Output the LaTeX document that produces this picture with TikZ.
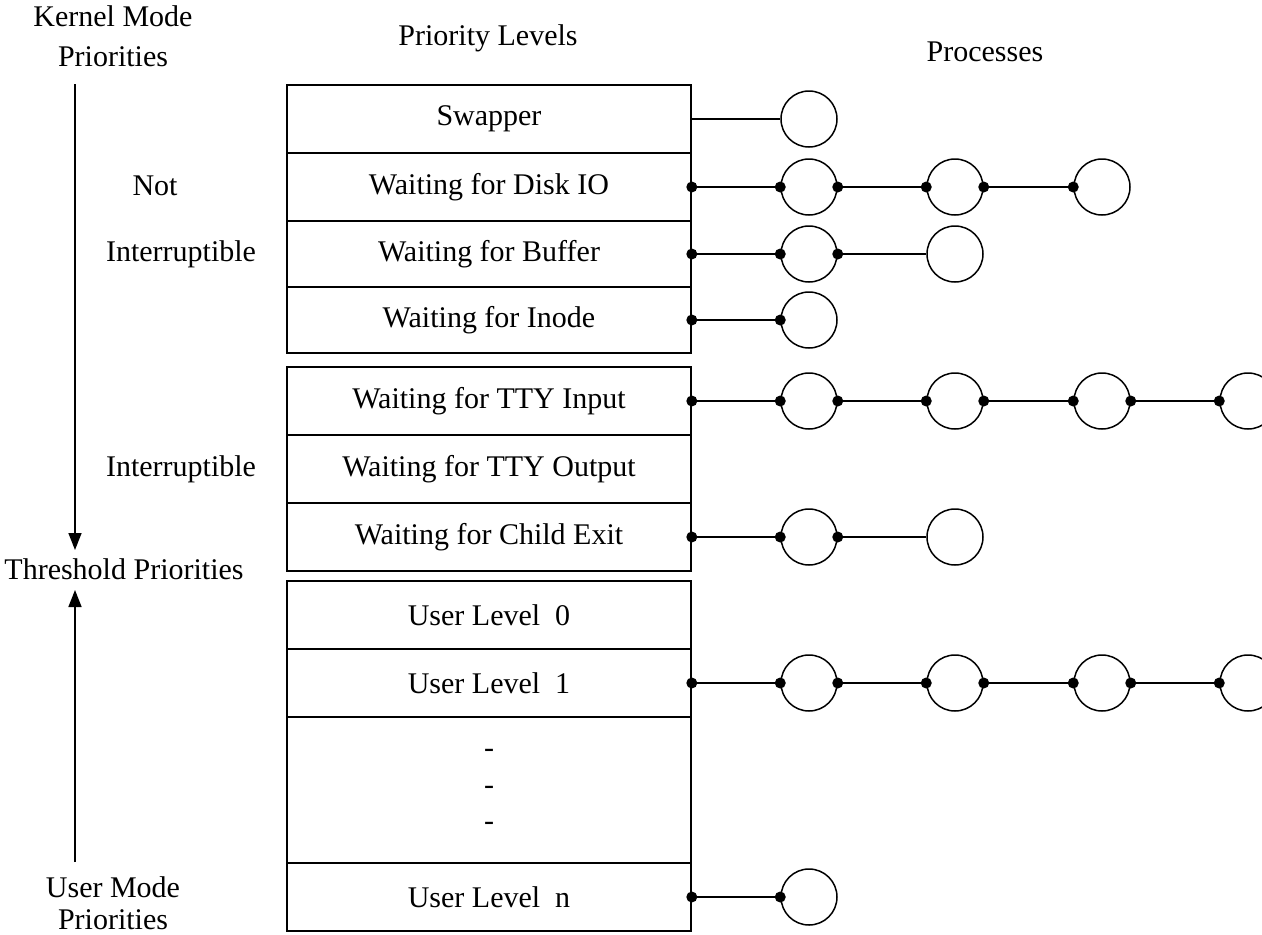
\documentclass[tikz,border=0pt]{standalone}
\usepackage{fontspec}
\setmainfont{Liberation Serif}
\usetikzlibrary{arrows.meta}
\tikzset{
  txt/.style={font=\fontsize{30}{32}\selectfont, inner sep=0pt, align=center},
  rowbox/.style={draw, line width=1.6pt, minimum width=404pt, inner sep=0pt, font=\fontsize{30}{32}\selectfont},
  proc/.style={draw, circle, line width=1.5pt, minimum size=56pt, inner sep=0pt},
  link/.style={line width=1.6pt},
  axis/.style={line width=1.5pt},
  tip/.style={-{Triangle[width=13pt,length=17pt]}},
}
\newcommand{\pdot}[1]{\fill (#1) circle (5.5pt);}
\begin{document}
\begin{tikzpicture}[x=1pt,y=-1pt]
\useasboundingbox (0,0) rectangle (1262,935);
\clip (0,0) rectangle (1262,935);
% headers
\node[txt] (hkm1) at (113,16) {Kernel Mode};
\node[txt] (hkm2) at (113,57) {Priorities};
\node[txt] (hpl) at (488,38) {Priority Levels};
\node[txt] (hpr) at (985,52) {Processes};
\node[txt] (lnot) at (155,186) {Not};
\node[txt] (lint1) at (181,254) {Interruptible};
\node[txt] (lint2) at (181,469) {Interruptible};
\node[txt] (lthr) at (124,569) {Threshold Priorities};
\node[txt] (hum) at (113,903) {User Mode\\Priorities};
% axis
\coordinate (a1) at (75,84);
\coordinate (a2) at (75,550);
\coordinate (a3) at (75,862);
\coordinate (a4) at (75,590);
\draw[axis,tip] (a1) -- (a2);
\draw[axis,tip] (a3) -- (a4);
% rows
\node[rowbox, minimum height=68pt] (r1) at (489,119) {Swapper};
\node[rowbox, minimum height=68pt] (r2) at (489,187) {Waiting for Disk IO};
\node[rowbox, minimum height=66pt] (r3) at (489,254) {Waiting for Buffer};
\node[rowbox, minimum height=66pt] (r4) at (489,320) {Waiting for Inode};
\node[rowbox, minimum height=68pt] (r5) at (489,401) {Waiting for TTY Input};
\node[rowbox, minimum height=68pt] (r6) at (489,469) {Waiting for TTY Output};
\node[rowbox, minimum height=68pt] (r7) at (489,537) {Waiting for Child Exit};
\node[rowbox, minimum height=68pt] (r8) at (489,615) {User Level\ \ 0};
\node[rowbox, minimum height=68pt] (r9) at (489,683) {User Level\ \ 1};
\node[rowbox, minimum height=146pt] (r10) at (489,790) {};
\node[rowbox, minimum height=68pt] (r11) at (489,897) {User Level\ \ n};
\node[txt] (d1) at (489,753) {-};
\node[txt] (d2) at (489,790) {-};
\node[txt] (d3) at (489,826) {-};
% processes
\node[proc] (p1a) at (809,119) {};
\foreach \r/\y in {2/187,3/254,4/320,5/401,7/537,9/683,11/897}{
  \node[proc] (p\r a) at (809,\y) {};
}
\foreach \r/\y in {2/187,3/254,5/401,7/537,9/683}{
  \node[proc] (p\r b) at (955,\y) {};
}
\foreach \r/\y in {2/187,5/401,9/683}{
  \node[proc] (p\r c) at (1102,\y) {};
}
\foreach \r/\y in {5/401,9/683}{
  \node[proc] (p\r d) at (1248,\y) {};
}
% links
\draw[link] (r1.east) -- (p1a.west);
\foreach \r in {2,3,4,5,7,9,11}{
  \draw[link] (r\r.east) -- (p\r a.west);
  \pdot{r\r.east} \pdot{p\r a.west}
}
\foreach \r in {2,3,5,7,9}{
  \draw[link] (p\r a.east) -- (p\r b.west);
  \pdot{p\r a.east}
}
\foreach \r in {2,5,9}{
  \draw[link] (p\r b.east) -- (p\r c.west);
  \pdot{p\r b.west} \pdot{p\r b.east} \pdot{p\r c.west}
}
\foreach \r in {5,9}{
  \draw[link] (p\r c.east) -- (p\r d.west);
  \pdot{p\r c.east} \pdot{p\r d.west}
}
\end{tikzpicture}
\end{document}
